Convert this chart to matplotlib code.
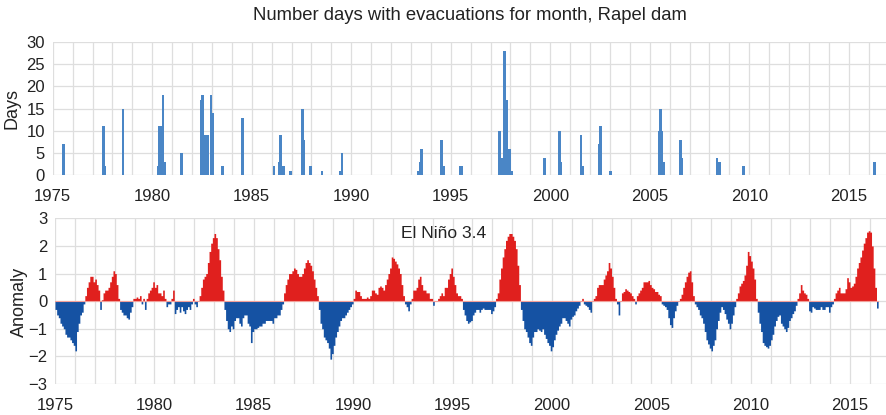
import numpy as np
import matplotlib
matplotlib.use("Agg")
import matplotlib.pyplot as plt
from matplotlib.ticker import MultipleLocator

plt.rcParams['font.family'] = ['Liberation Sans', 'DejaVu Sans']

# ---------------- data ----------------
evac_year = [1975, 1977, 1977, 1978, 1980, 1980, 1980, 1980, 1980, 1981,
             1982, 1982, 1982, 1982, 1982, 1982, 1983, 1983, 1984,
             1986, 1986, 1986, 1986, 1986, 1986, 1987, 1987, 1987, 1988,
             1989, 1989, 1993, 1993, 1993, 1994, 1994, 1995, 1995,
             1997, 1997, 1997, 1997, 1997, 1997, 1997, 1998, 1999,
             2000, 2000, 2001, 2001, 2002, 2002, 2003,
             2005, 2005, 2005, 2005, 2006, 2006, 2008, 2008, 2008, 2009, 2016]
evac_month = [7, 7, 8, 7, 4, 5, 6, 7, 8, 6,
              6, 7, 8, 9, 10, 12, 1, 7, 7,
              2, 5, 6, 7, 8, 12, 7, 8, 12, 7,
              6, 7, 5, 6, 7, 7, 8, 6, 7,
              6, 7, 8, 9, 10, 11, 12, 1, 9,
              6, 7, 7, 8, 6, 7, 1,
              6, 7, 8, 9, 7, 8, 5, 6, 7, 9, 4]
evac_days = [7, 11, 2, 15, 2, 11, 11, 18, 3, 5,
             17, 18, 9, 9, 9, 18, 14, 2, 13,
             2, 3, 9, 2, 2, 1, 15, 8, 2, 1,
             1, 5, 1, 3, 6, 8, 2, 2, 2,
             10, 4, 4, 28, 17, 6, 6, 1, 4,
             10, 3, 9, 2, 7, 11, 1,
             10, 15, 10, 3, 8, 4, 4, 3, 3, 2, 3]

nino_start_year = 1975
nino34 = [
    # 1975
    -0.3, -0.5, -0.6, -0.8, -0.9, -1.0, -1.2, -1.3, -1.3, -1.4, -1.5, -1.6,
    # 1976
    -1.8, -1.1, -0.8, -0.5, -0.4, -0.1, 0.2, 0.5, 0.7, 0.9, 0.9, 0.7,
    # 1977
    0.8, 0.6, 0.4, -0.3, 0.05, 0.3, 0.4, 0.4, 0.5, 0.7, 0.9, 1.1,
    # 1978
    1.0, 0.6, 0.1, -0.3, -0.4, -0.5, -0.5, -0.6, -0.65, -0.4, -0.2, 0.1,
    # 1979
    0.1, 0.15, 0.1, 0.2, -0.1, 0.1, -0.3, 0.1, 0.3, 0.4, 0.5, 0.7,
    # 1980
    0.5, 0.6, 0.3, 0.3, 0.2, 0.4, 0.1, -0.2, -0.1, -0.1, 0.1, 0.4,
    # 1981
    -0.45, -0.3, -0.2, -0.4, -0.2, -0.35, -0.45, -0.3, -0.2, -0.3, -0.1, 0.1,
    # 1982
    -0.1, -0.2, 0.0, 0.2, 0.5, 0.8, 0.9, 1.0, 1.4, 1.8, 2.1, 2.3,
    # 1983
    2.45, 2.3, 1.9, 1.5, 0.9, 0.4, -0.3, -0.7, -1.0, -1.1, -0.9, -1.0,
    # 1984
    -0.7, -0.6, -0.6, -0.8, -0.9, -0.6, -0.5, -0.5, -0.8, -0.9, -1.5, -1.1,
    # 1985
    -1.0, -1.0, -0.95, -0.9, -0.9, -0.8, -0.8, -0.7, -0.7, -0.7, -0.7, -0.8,
    # 1986
    -0.6, -0.6, -0.5, -0.5, -0.3, -0.1, 0.3, 0.6, 0.8, 1.0, 1.0, 1.1,
    # 1987
    1.2, 1.15, 1.0, 0.9, 0.9, 1.0, 1.2, 1.4, 1.5, 1.4, 1.3, 1.1,
    # 1988
    0.8, 0.5, 0.2, -0.3, -0.8, -1.0, -1.3, -1.4, -1.5, -1.7, -2.1, -1.9,
    # 1989
    -1.6, -1.3, -1.1, -0.9, -0.7, -0.6, -0.6, -0.5, -0.4, -0.3, -0.2, -0.1,
    # 1990
    0.1, 0.4, 0.35, 0.35, 0.2, 0.1, 0.1, 0.1, 0.15, 0.1, 0.2, 0.4,
    # 1991
    0.4, 0.3, 0.25, 0.5, 0.55, 0.5, 0.4, 0.6, 0.8, 1.0, 1.2, 1.6,
    # 1992
    1.55, 1.45, 1.35, 1.2, 1.0, 0.6, 0.2, -0.1, -0.2, -0.35, -0.1, 0.1,
    # 1993
    0.4, 0.4, 0.5, 0.8, 0.9, 0.6, 0.4, 0.4, 0.3, 0.3, 0.1, 0.1,
    # 1994
    -0.15, 0.0, 0.0, 0.1, 0.2, 0.3, 0.2, 0.5, 0.5, 0.8, 1.0, 1.2,
    # 1995
    0.9, 0.6, 0.3, 0.2, 0.2, 0.1, -0.3, -0.5, -0.7, -0.8, -0.75, -0.7,
    # 1996
    -0.5, -0.4, -0.3, -0.3, -0.4, -0.3, -0.25, -0.3, -0.3, -0.3, -0.3, -0.45,
    # 1997
    -0.35, -0.2, 0.1, 0.3, 0.8, 1.2, 1.6, 1.9, 2.2, 2.35, 2.45, 2.45,
    # 1998
    2.35, 2.2, 1.9, 1.3, 0.6, -0.3, -0.7, -1.0, -1.1, -1.3, -1.5, -1.6,
    # 1999
    -1.3, -1.1, -1.1, -1.0, -1.05, -1.1, -1.0, -1.2, -1.35, -1.5, -1.6, -1.8,
    # 2000
    -1.65, -1.4, -1.2, -1.05, -0.9, -0.8, -0.6, -0.6, -0.7, -0.8, -0.9, -0.65,
    # 2001
    -0.55, -0.5, -0.35, -0.25, -0.15, 0.0, 0.1, -0.1, -0.15, -0.2, -0.3, -0.4,
    # 2002
    0.0, 0.1, 0.2, 0.5, 0.6, 0.6, 0.6, 0.8, 0.95, 1.1, 1.4, 1.2,
    # 2003
    0.9, 0.5, 0.1, -0.1, -0.5, 0.0, 0.3, 0.35, 0.45, 0.4, 0.35, 0.3,
    # 2004
    0.2, 0.1, -0.1, 0.2, 0.3, 0.4, 0.5, 0.7, 0.7, 0.7, 0.75, 0.6,
    # 2005
    0.5, 0.45, 0.35, 0.35, 0.25, 0.2, -0.1, -0.15, -0.2, -0.3, -0.6, -0.85,
    # 2006
    -0.95, -0.6, -0.35, -0.15, 0.0, 0.1, 0.25, 0.5, 0.7, 0.9, 1.05, 1.1,
    # 2007
    0.7, 0.2, -0.1, -0.2, -0.3, -0.5, -0.6, -0.8, -1.1, -1.4, -1.55, -1.7,
    # 2008
    -1.8, -1.6, -1.4, -1.0, -0.7, -0.4, -0.2, -0.3, -0.45, -0.65, -0.8, -1.0,
    # 2009
    -0.8, -0.5, -0.2, 0.1, 0.3, 0.55, 0.65, 0.75, 0.95, 1.3, 1.8, 1.65,
    # 2010
    1.45, 1.2, 0.8, 0.1, -0.4, -0.8, -1.1, -1.5, -1.6, -1.65, -1.7, -1.6,
    # 2011
    -1.4, -1.2, -0.9, -0.7, -0.55, -0.5, -0.8, -0.9, -1.0, -1.1, -0.95, -0.7,
    # 2012
    -0.6, -0.45, -0.35, -0.15, 0.1, 0.3, 0.6, 0.4, 0.3, 0.25, 0.1, -0.35,
    # 2013
    -0.4, -0.2, -0.25, -0.3, -0.3, -0.3, -0.2, -0.3, -0.3, -0.2, -0.2, -0.4,
    # 2014
    -0.2, -0.1, 0.1, 0.3, 0.4, 0.5, 0.3, 0.3, 0.3, 0.45, 0.85, 0.7,
    # 2015
    0.5, 0.55, 0.65, 0.9, 1.2, 1.4, 1.6, 1.85, 2.1, 2.3, 2.5, 2.55,
    # 2016
    2.5, 2.0, 1.2, 0.5, -0.25,
]

year_ticks = [1975, 1980, 1985, 1990, 1995, 2000, 2005, 2010, 2015]
title = "Number days with evacuations for month, Rapel dam"
enso_label = "El Niño 3.4"

# ---------------- style ----------------
TXT = '#222222'
GRID = '#dedede'
BAR = '#4a86c6'
RED = '#e0201e'
BLUE = '#1552a3'
FS = 12

fig = plt.figure(figsize=(8.86, 4.15), dpi=100)

def style(ax):
    for s in ax.spines.values():
        s.set_visible(False)
    ax.xaxis.set_major_locator(plt.FixedLocator(year_ticks))
    ax.xaxis.set_minor_locator(MultipleLocator(1))
    ax.grid(True, which='both', axis='x', color=GRID, lw=0.9, zorder=0)
    ax.grid(True, which='major', axis='y', color=GRID, lw=0.9, zorder=0)
    ax.tick_params(which='both', length=0, labelsize=FS, labelcolor=TXT)
    ax.tick_params(axis='x', pad=10)
    ax.tick_params(axis='y', pad=5.5)
    ax.set_axisbelow(True)

# top: evacuation days
ax1 = fig.add_axes([52.7 / 886, 1 - 175.3 / 415, (886 - 52.7) / 886, (175.3 - 42) / 415])
pos = np.array(evac_year) + (np.array(evac_month) - 0.5) / 12.0
ax1.bar(pos, evac_days, width=0.13, color=BAR, linewidth=0, zorder=2)
ax1.set_xlim(1975, 1975 + (886 - 52.7) / 19.9)
ax1.set_ylim(0, 30)
ax1.yaxis.set_major_locator(MultipleLocator(5))
style(ax1)
fig.text(12 / 886, 1 - 108 / 415, 'Days', rotation=90, ha='center', va='center',
         fontsize=13, color=TXT)
fig.text(470 / 886, 1 - 16 / 415, title, ha='center', va='center', fontsize=13.3, color=TXT)

# bottom: El Nino 3.4
ax2 = fig.add_axes([55 / 886, 1 - 384 / 415, (886 - 55) / 886, (384 - 218.3) / 415])
v = np.array(nino34)
t = nino_start_year + np.arange(len(v) + 1) / 12.0
vv = np.append(v, v[-1])
ax2.fill_between(t, np.where(vv > 0, vv, 0), 0, step='post', color=RED, lw=0, zorder=2)
ax2.fill_between(t, np.where(vv < 0, vv, 0), 0, step='post', color=BLUE, lw=0, zorder=2)
ax2.plot([t[0], t[-1]], [0, 0], color='#f2a09a', lw=0.8, zorder=3)
ax2.set_xlim(1975, 1975 + (886 - 55) / 19.875)
ax2.set_ylim(-3, 3)
ax2.yaxis.set_major_locator(MultipleLocator(1))
style(ax2)
ax2.text(1994.57, 2.45, enso_label, ha='center', va='center', fontsize=12.6, color=TXT)
fig.text(19.5 / 886, 1 - 301.7 / 415, 'Anomaly', rotation=90, ha='center', va='center',
         fontsize=13, color=TXT)

fig.savefig('out.png', dpi=100)
